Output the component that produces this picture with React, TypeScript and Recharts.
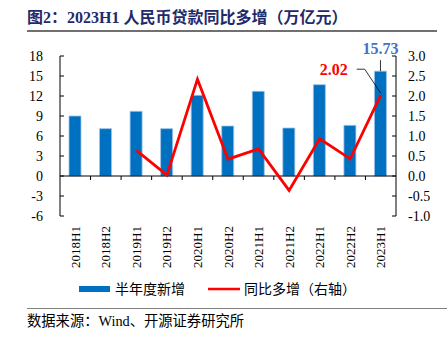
import React from "react";
import { ComposedChart, Bar, Line, XAxis, YAxis, ReferenceLine } from "recharts";

const categories = ["2018H1", "2018H2", "2019H1", "2019H2", "2020H1", "2020H2", "2021H1", "2021H2", "2022H1", "2022H2", "2023H1"];
const halfYearNew = [9.0, 7.1, 9.7, 7.1, 12.1, 7.5, 12.7, 7.2, 13.7, 7.6, 15.73];
const yoyIncrease: (number | null)[] = [null, null, 0.64, 0.02, 2.42, 0.42, 0.68, -0.36, 0.93, 0.43, 2.02];
const leftTicks = [-6, -3, 0, 3, 6, 9, 12, 15, 18];
const rightTicks = [-1, -0.5, 0, 0.5, 1, 1.5, 2, 2.5, 3];

const data = categories.map((c, i) => ({ name: c, bar: halfYearNew[i], line: yoyIncrease[i] }));

const SERIF = '"Liberation Serif", "Times New Roman", "Noto Sans CJK SC", serif';
const CJK = '"Liberation Serif", "Noto Sans CJK SC", serif';
const LAST = categories.length - 1;

const XTick = (props: any) => {
  const { x, y, payload } = props;
  return (
    <g transform={`translate(${x},${y})`}>
      <text transform="rotate(-90)" x={0} y={4.5} textAnchor="end" fontFamily={SERIF} fontSize={13} fill="#000">
        {payload.value}
      </text>
    </g>
  );
};

const ZeroLine = (props: any) => {
  const { x1, x2, y1 } = props;
  const n = categories.length;
  const step = (x2 - x1) / n;
  const ticks = [];
  for (let i = 1; i < n; i++) {
    const tx = x1 + step * i;
    ticks.push(<line key={i} x1={tx} x2={tx} y1={y1} y2={y1 + 4} stroke="#000" strokeWidth={1} />);
  }
  return (
    <g>
      <line x1={x1} x2={x2} y1={y1} y2={y1} stroke="#000" strokeWidth={1} />
      {ticks}
    </g>
  );
};

const BarLabel = (props: any) => {
  const { x, y, width, index, value } = props;
  if (index !== LAST) return null;
  const cx = x + width / 2;
  return (
    <g>
      <line x1={cx} x2={cx} y1={y - 11} y2={y} stroke="#000" strokeWidth={0.8} />
      <text x={cx} y={y - 17} textAnchor="middle" fontFamily={SERIF} fontWeight="bold" fontSize={16} fill="#4472C4">
        {Number(value).toFixed(2)}
      </text>
    </g>
  );
};

const LineLabel = (props: any) => {
  const { x, y, index, value } = props;
  if (index !== LAST) return null;
  return (
    <g>
      <polyline points={`${x - 24},${y - 26} ${x - 16},${y - 26} ${x},${y - 2}`} fill="none" stroke="#000" strokeWidth={0.8} />
      <text x={x - 47} y={y - 20} textAnchor="middle" fontFamily={SERIF} fontWeight="bold" fontSize={16} fill="#FF0000">
        {Number(value).toFixed(2)}
      </text>
    </g>
  );
};

export default function App() {
  return (
    <div style={{ position: "absolute", left: 0, top: 0, width: 447, height: 345, background: "#fff" }}>
      <svg width={447} height={345} style={{ position: "absolute", left: 0, top: 0 }}>
        <text x={27} y={23} fontFamily={CJK} fontWeight="bold" fontSize={16} fill="#1F2A6B">
          图2：2023H1 人民币贷款同比多增（万亿元）
        </text>
        <line x1={27} x2={437} y1={31} y2={31} stroke="#404040" strokeWidth={1.5} />
        <rect x={79} y={286} width={31} height={6} fill="#0070C0" />
        <text x={115} y={294} fontFamily={CJK} fontSize={14} fill="#000">半年度新增</text>
        <line x1={208} x2={240} y1={289} y2={289} stroke="#FF0000" strokeWidth={2.5} />
        <text x={244} y={294} fontFamily={CJK} fontSize={14} fill="#000">同比多增（右轴）</text>
        <line x1={27} x2={447} y1={308.5} y2={308.5} stroke="#808080" strokeWidth={1.2} />
        <text x={27} y={326} fontFamily={CJK} fontSize={14.3} fill="#000">数据来源：Wind、开源证券研究所</text>
      </svg>
      <div style={{ position: "absolute", left: 0, top: 0 }}>
        <ComposedChart width={447} height={345} data={data} margin={{ top: 56, right: 0, bottom: 69, left: 0 }} barCategoryGap={0}>
          <XAxis dataKey="name" axisLine={false} tickLine={false} tickSize={0} tickMargin={10} height={60} interval={0} tick={<XTick />} />
          <YAxis
            yAxisId="left"
            orientation="left"
            domain={[-6, 18]}
            ticks={leftTicks}
            interval={0}
            width={60}
            axisLine={{ stroke: "#000" }}
            tickLine={{ stroke: "#000" }}
            tickSize={-4}
            tickMargin={21}
            tick={{ fontFamily: SERIF, fontSize: 14, fill: "#000" }}
          />
          <YAxis
            yAxisId="right"
            orientation="right"
            domain={[-1, 3]}
            ticks={rightTicks}
            interval={0}
            width={51}
            axisLine={{ stroke: "#000" }}
            tickLine={{ stroke: "#000" }}
            tickSize={-4}
            tickMargin={16}
            tickFormatter={(v: number) => v.toFixed(1)}
            tick={{ fontFamily: SERIF, fontSize: 14, fill: "#000" }}
          />
          <ReferenceLine yAxisId="left" y={0} shape={<ZeroLine />} />
          <Bar yAxisId="left" dataKey="bar" fill="#0070C0" stroke="#9DC3E6" strokeWidth={0.8} barSize={12} isAnimationActive={false} label={<BarLabel />} />
          <Line yAxisId="right" dataKey="line" stroke="#FF0000" strokeWidth={2.8} dot={false} activeDot={false} connectNulls={false} isAnimationActive={false} label={<LineLabel />} />
        </ComposedChart>
      </div>
    </div>
  );
}
